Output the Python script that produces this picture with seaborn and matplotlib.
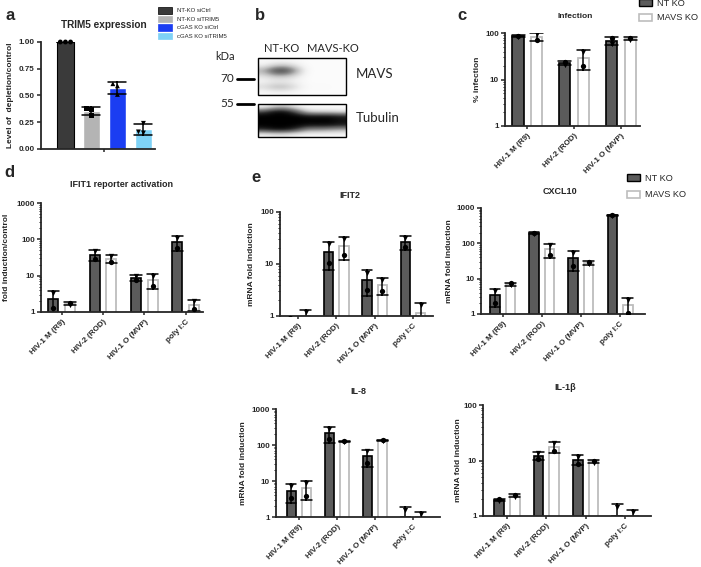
import numpy as np
import pandas as pd
import matplotlib
matplotlib.use("Agg")
import matplotlib.pyplot as plt
import seaborn as sns
from matplotlib.patches import Patch, Rectangle
from matplotlib.ticker import NullFormatter

# ---------------- data ----------------
trim5_conditions = ["NT-KO siCtrl", "NT-KO siTRIM5", "cGAS KO siCtrl", "cGAS KO siTRIM5"]
trim5_reps = [[1.0, 1.0, 1.0], [0.38, 0.37, 0.31], [0.61, 0.59, 0.51], [0.24, 0.16, 0.15]]
trim5_colors = ["#3a3a3a", "#b4b4b4", "#1b3df2", "#7fd2f6"]
trim5_markers = ["o", "s", "^", "v"]

viruses = ["HIV-1 M (R9)", "HIV-2 (ROD)", "HIV-1 O (MVP)", "poly I:C"]
genotypes = ["NT KO", "MAVS KO"]

# two replicates per bar: [rep1, rep2]
infection_nt = [[82, 88], [21, 24], [58, 78]]
infection_mavs = [[93, 71], [39, 20], [72, 80]]

ifit1_nt = [[3.3, 1.3], [47, 29], [10, 7.6], [112, 58]]
ifit1_mavs = [[1.6, 1.8], [34, 24], [10, 5.2], [2.0, 1.2]]

ifit2_nt = [[0.8, 0.9], [24, 10.5], [6.8, 3.2], [32, 21]]
ifit2_mavs = [[1.2, 0.8], [30, 15], [5.0, 3.0], [1.6, 0.7]]

cxcl10_nt = [[4.6, 2.1], [182, 200], [54, 23], [600, 645]]
cxcl10_mavs = [[6.5, 7.5], [90, 47], [26, 30], [2.5, 1.1]]

il8_nt = [[7.2, 3.3], [280, 145], [66, 31], [1.6, 0.4]]
il8_mavs = [[8.8, 3.9], [120, 130], [133, 138], [1.25, 0.75]]

il1b_nt = [[1.9, 2.0], [13.5, 10.8], [11.8, 8.8], [1.45, 0.55]]
il1b_mavs = [[2.2, 2.4], [20.5, 14.8], [9.2, 10.0], [1.2, 0.8]]

# western blot band intensities (rows top->bottom, columns: NT-KO lane | MAVS-KO lane)
mavs_blot = [[0.04, 0.05, 0.05, 0.04, 0.03, 0.03, 0.03, 0.03],
             [0.10, 0.25, 0.30, 0.15, 0.03, 0.03, 0.03, 0.03],
             [0.45, 0.85, 0.90, 0.50, 0.04, 0.03, 0.03, 0.03],
             [0.20, 0.35, 0.35, 0.20, 0.03, 0.03, 0.03, 0.03],
             [0.08, 0.12, 0.12, 0.08, 0.03, 0.03, 0.03, 0.03],
             [0.25, 0.40, 0.40, 0.22, 0.04, 0.05, 0.04, 0.03],
             [0.05, 0.08, 0.08, 0.05, 0.03, 0.03, 0.03, 0.03]]
tub_blot = [[0.05, 0.25, 0.30, 0.10, 0.02, 0.02, 0.02, 0.02],
            [0.75, 0.95, 0.95, 0.70, 0.25, 0.20, 0.20, 0.15],
            [1.00, 1.00, 1.00, 1.00, 0.95, 0.95, 0.95, 0.90],
            [1.00, 1.00, 1.00, 1.00, 1.00, 1.00, 1.00, 0.95],
            [1.00, 1.00, 1.00, 1.00, 0.95, 0.95, 0.95, 0.90],
            [0.85, 0.95, 0.95, 0.80, 0.50, 0.50, 0.45, 0.40],
            [0.10, 0.15, 0.15, 0.08, 0.05, 0.05, 0.05, 0.05]]

nt_color = "#5b5b5b"
mavs_edge = "#bdbdbd"

W, H = 701, 567
sns.set_style("ticks")
plt.rcParams["font.family"] = ["Liberation Sans", "DejaVu Sans"]
plt.rcParams["font.weight"] = "bold"
plt.rcParams["axes.labelweight"] = "bold"
plt.rcParams["axes.linewidth"] = 1.3
plt.rcParams["xtick.major.width"] = 1.1
plt.rcParams["ytick.major.width"] = 1.1
plt.rcParams["ytick.minor.width"] = 0.7
plt.rcParams["xtick.major.size"] = 2.5
plt.rcParams["ytick.major.size"] = 3
plt.rcParams["ytick.minor.size"] = 1.6

fig = plt.figure(figsize=(W / 100, H / 100), dpi=100)


def add_ax(x0, y0, x1, y1):
    return fig.add_axes([x0 / W, 1 - y1 / H, (x1 - x0) / W, (y1 - y0) / H])


def ftext(x, y, s, **kw):
    fig.text(x / W, 1 - y / H, s, **kw)


def long_df(nt, mavs, cats):
    rows = []
    for g, reps in zip(genotypes, [nt, mavs]):
        for c, vals in zip(cats, reps):
            for i, v in enumerate(vals):
                rows.append({"virus": c, "genotype": g, "rep": i, "value": v})
    return pd.DataFrame(rows)


def grouped_log(box, nt, mavs, cats, xlim, top, ylabel, label_x):
    x0, y0, x1, y1 = box
    ax = add_ax(x0, y0, x1, y1)
    df = long_df(nt, mavs, cats)
    sns.barplot(data=df, x="virus", y="value", hue="genotype", order=cats,
                hue_order=genotypes, palette=[nt_color, "white"], saturation=1,
                errorbar="sd", capsize=0.55, width=0.8, gap=0.4,
                err_kws={"color": "black", "linewidth": 1.1}, legend=False, ax=ax)
    for p in ax.containers[0]:
        p.set_edgecolor("black")
        p.set_linewidth(1.2)
    for p in ax.containers[1]:
        p.set_edgecolor(mavs_edge)
        p.set_linewidth(1.3)
    for rep, marker in zip([0, 1], ["v", "o"]):
        sns.stripplot(data=df[df.rep == rep], x="virus", y="value", hue="genotype",
                      order=cats, hue_order=genotypes, dodge=True, jitter=False,
                      marker=marker, palette={"NT KO": "black", "MAVS KO": "black"},
                      size=3.8, legend=False, ax=ax)
    ax.set_yscale("log")
    ticks = [10 ** k for k in range(int(np.log10(top)) + 1)]
    ax.set_ylim(1, top)
    ax.set_yticks(ticks)
    ax.set_yticklabels([str(t) for t in ticks], fontsize=5.8)
    ax.yaxis.set_minor_formatter(NullFormatter())
    ax.set_xlim(*xlim)
    ax.set_xticks(range(len(cats)))
    ax.set_xticklabels(cats, rotation=45, ha="right", rotation_mode="anchor", fontsize=5.8)
    ax.tick_params(axis="x", pad=2)
    ax.tick_params(axis="y", pad=1.5)
    ax.set_xlabel("")
    ax.set_ylabel(ylabel, fontsize=6)
    ax.yaxis.set_label_coords((label_x - x0) / (x1 - x0), 0.5)
    sns.despine(ax=ax)
    return ax


# ---------------- panel a ----------------
ax_a = add_ax(41, 42, 155, 149)
df_a = pd.DataFrame([{"cond": c, "value": v} for c, reps in zip(trim5_conditions, trim5_reps) for v in reps])
df_a["grp"] = ""
sns.barplot(data=df_a, x="grp", y="value", hue="cond", hue_order=trim5_conditions,
            palette=trim5_colors, saturation=1, errorbar="sd", capsize=0.55,
            width=0.8, gap=0.35, err_kws={"color": "black", "linewidth": 1.1},
            legend=False, ax=ax_a)
for p in ax_a.containers[0]:
    p.set_edgecolor("black")
    p.set_linewidth(0.8)
for cond, marker in zip(trim5_conditions, trim5_markers):
    sns.swarmplot(data=df_a[df_a.cond == cond], x="grp", y="value", hue="cond",
                  hue_order=trim5_conditions, palette={c: "black" for c in trim5_conditions},
                  dodge=True, marker=marker, size=3.5, legend=False, ax=ax_a)
for coll in ax_a.collections:
    coll.set_clip_on(False)
ax_a.set_ylim(0, 1.0)
ax_a.set_yticks([0, 0.25, 0.5, 0.75, 1.0])
ax_a.set_yticklabels(["0.00", "0.25", "0.50", "0.75", "1.00"], fontsize=5.8)
ax_a.set_xlim(-0.488, 0.389)
ax_a.set_xticks([0])
ax_a.set_xticklabels([""])
ax_a.set_xlabel("")
ax_a.set_ylabel("Level of  depletion/control", fontsize=6)
ax_a.yaxis.set_label_coords((14 - 41) / 114, 0.5)
ax_a.tick_params(axis="y", pad=1.5)
sns.despine(ax=ax_a)
ftext(104, 25, "TRIM5 expression", fontsize=7.2, ha="center", va="center")
fig.legend(handles=[Patch(facecolor=c, edgecolor="black" if i == 0 else c, linewidth=0.5)
                    for i, c in enumerate(trim5_colors)],
           labels=trim5_conditions, loc="upper left", bbox_to_anchor=(158 / W, 1 - 7 / H),
           frameon=False, handlelength=2.4, handleheight=1.3,
           labelspacing=0.35, handletextpad=0.8, borderaxespad=0, borderpad=0,
           prop={"weight": "normal", "size": 4.3})

# ---------------- panel b (blot) ----------------
ax_b = add_ax(205, 30, 440, 145)
ax_b.set_xlim(205, 440)
ax_b.set_ylim(145, 30)
ax_b.axis("off")
ax_b.imshow(np.array(mavs_blot), cmap="Greys", vmin=0, vmax=1, aspect="auto",
            interpolation="bicubic", extent=(258, 346, 95, 58))
ax_b.imshow(np.array(tub_blot), cmap="Greys", vmin=0, vmax=1, aspect="auto",
            interpolation="bicubic", extent=(258, 346, 137, 104))
ax_b.add_patch(Rectangle((258, 58), 88, 37, fill=False, edgecolor="black", linewidth=1.0))
ax_b.add_patch(Rectangle((258, 104), 88, 33, fill=False, edgecolor="black", linewidth=1.0))
blot_font = dict(family=["Lato", "DejaVu Sans"], fontweight="normal")
ax_b.text(225, 57, "kDa", fontsize=8, ha="center", va="center", **blot_font)
ax_b.text(234, 79, "70", fontsize=8.5, ha="right", va="center", **blot_font)
ax_b.text(234, 104, "55", fontsize=8.5, ha="right", va="center", **blot_font)
ax_b.plot([237, 254], [79, 79], color="black", linewidth=2)
ax_b.plot([237, 254], [104, 104], color="black", linewidth=2)
ax_b.text(282, 49, "NT-KO", fontsize=8, ha="center", va="center", **blot_font)
ax_b.text(333, 49, "MAVS-KO", fontsize=8, ha="center", va="center", **blot_font)
ax_b.text(356, 74, "MAVS", fontsize=9.5, ha="left", va="center", **blot_font)
ax_b.text(356, 118, "Tubulin", fontsize=9.5, ha="left", va="center", **blot_font)

# ---------------- panel c ----------------
grouped_log((505, 33, 640, 126), infection_nt, infection_mavs, viruses[:3],
            (-0.48, 2.41), 100, "% infection", 481)
ftext(575, 17, "Infection", fontsize=6, ha="center", va="center")

# ---------------- panel d ----------------
grouped_log((41, 203, 203, 312), ifit1_nt, ifit1_mavs, viruses,
            (-0.5, 3.42), 1000, "fold induction/control", 10)
ftext(122, 185, "IFIT1 reporter activation", fontsize=6.5, ha="center", va="center")

# ---------------- panel e ----------------
grouped_log((280, 212, 433, 316), ifit2_nt, ifit2_mavs, viruses,
            (-0.47, 3.52), 100, "mRNA fold induction", 255)
ftext(350, 195, "IFIT2", fontsize=6.5, ha="center", va="center")

grouped_log((481, 208, 645, 314), cxcl10_nt, cxcl10_mavs, viruses,
            (-0.56, 3.64), 1000, "mRNA fold induction", 453)
ftext(560, 192, "CXCL10", fontsize=6.5, ha="center", va="center")

grouped_log((276, 409, 440, 517), il8_nt, il8_mavs, viruses,
            (-0.6, 3.71), 1000, "mRNA fold induction", 247)
ftext(358, 392, "IL-8", fontsize=6.5, ha="center", va="center")

grouped_log((483, 405, 651, 516), il1b_nt, il1b_mavs, viruses,
            (-0.61, 3.66), 100, "mRNA fold induction", 462)
ftext(565, 388, "IL-1β", fontsize=6.5, ha="center", va="center")

# legends for c and d/e
geno_handles = [Patch(facecolor=nt_color, edgecolor="black", linewidth=1.0),
                Patch(facecolor="white", edgecolor=mavs_edge, linewidth=1.2)]
for lx, ly, sp in [(639, -1, 0.6), (627, 174, 0.8)]:
    fig.legend(handles=geno_handles, labels=genotypes, loc="upper left",
               bbox_to_anchor=(lx / W, 1 - ly / H), frameon=False,
               handlelength=1.4, handleheight=0.8, labelspacing=sp, handletextpad=0.6,
               borderaxespad=0, borderpad=0, prop={"weight": "normal", "size": 6.6})

# panel letters
for x, y, s in [(5, 15, "a"), (255, 15, "b"), (457, 15, "c"), (4, 173, "d"), (251, 178, "e")]:
    ftext(x, y, s, fontsize=12, fontweight="bold", ha="left", va="center")

fig.savefig("out.png", dpi=100)
